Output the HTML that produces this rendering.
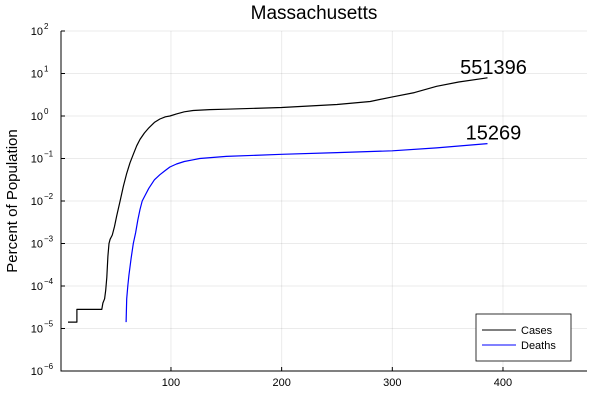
<!DOCTYPE html>
<html><head><meta charset="utf-8"><style>
body{margin:0;background:#fff;}
svg{font-family:"Liberation Sans","DejaVu Sans",sans-serif;}
</style></head><body>
<svg id="chart" width="600" height="400" viewBox="0 0 600 400" xmlns="http://www.w3.org/2000/svg">
<rect width="600" height="400" fill="#fff"/>
<text x="314" y="19" font-size="19" text-anchor="middle">Massachusetts</text>
<g id="grid"></g>
<g id="axes"></g>
<g id="series"></g>
<text transform="translate(17,201) rotate(-90)" font-size="15" text-anchor="middle">Percent of Population</text>
<g>
<rect x="476" y="314" width="95" height="47" fill="#fff" stroke="#000" stroke-width="0.8"/>
<line x1="482" y1="330" x2="516" y2="330" stroke="#000" stroke-width="1"/>
<text x="521" y="334" font-size="11">Cases</text>
<line x1="482" y1="345" x2="516" y2="345" stroke="#00f" stroke-width="1"/>
<text x="521" y="349" font-size="11">Deaths</text>
</g>
</svg>
<script>
const xTicks=[100,200,300,400];
const yTickExps=[-6,-5,-4,-3,-2,-1,0,1,2];
const caseDays=[7,15,15,37.5,38.5,40,41,42,43,44,45,47,49,51,54,57,60,63,66,69,72,76,80,85,90,95,99,105,112,120,135,150,200,250,280,300,320,340,360,386];
const caseLog=[-4.85,-4.85,-4.55,-4.55,-4.4,-4.3,-4.1,-3.8,-3.3,-3.0,-2.9,-2.8,-2.6,-2.35,-2.0,-1.65,-1.35,-1.1,-0.9,-0.7,-0.55,-0.4,-0.28,-0.15,-0.07,-0.02,0.0,0.05,0.1,0.13,0.15,0.16,0.2,0.27,0.34,0.45,0.55,0.7,0.8,0.9];
const deathDays=[59.5,60,61,62,64,66,68,70,72,74,77,80,85,90,95,99,105,112,120,126,150,200,250,300,340,386];
const deathLog=[-4.85,-4.3,-4.0,-3.75,-3.35,-3.0,-2.75,-2.45,-2.2,-2.0,-1.85,-1.7,-1.5,-1.38,-1.28,-1.2,-1.13,-1.07,-1.03,-1.0,-0.95,-0.9,-0.86,-0.82,-0.75,-0.65];
const endLabels=["551396","15269"];
const NS="http://www.w3.org/2000/svg";
const X0=61,X1=587,Y0=31,Y1=371;
function sx(d){return 60.3+d*1.1067;}
function sy(e){return Y0+(2-e)*(Y1-Y0)/8;}
function mk(t,a,p){const e=document.createElementNS(NS,t);for(const k in a)e.setAttribute(k,a[k]);p.appendChild(e);return e;}
const grid=document.getElementById('grid'),axes=document.getElementById('axes'),ser=document.getElementById('series');
xTicks.forEach(v=>{
 const g=mk('line',{x1:sx(v),x2:sx(v),y1:Y0,y2:Y1,stroke:'#000','stroke-opacity':0.08},grid);
 
 
 const t=mk('text',{x:sx(v),y:Y1+15,'font-size':11,'text-anchor':'middle'},axes);
 t.textContent=v;
 
 
 mk('line',{x1:sx(v),x2:sx(v),y1:Y1,y2:Y1-4,stroke:'#000'},axes);
});
yTickExps.forEach(v=>{
 const g=mk('line',{x1:X0,x2:X1,y1:sy(v),y2:sy(v),stroke:'#000','stroke-opacity':0.08},grid);
 
 
 mk('line',{x1:X0,x2:X0+4,y1:sy(v),y2:sy(v),stroke:'#000'},axes);
 const t=mk('text',{x:X0-18,y:sy(v)+4,'font-size':11,'text-anchor':'end'},axes);
 t.textContent='10';
 
 
 const s=mk('text',{x:X0-17,y:sy(v)-2,'font-size':8,'text-anchor':'start'},axes);
 s.textContent=(v<0?'\u2212'+(-v):''+v);
 
 
});
const ax=mk('path',{d:`M${X0},${Y0}V${Y1}H${X1}`,fill:'none',stroke:'#000','stroke-width':1},axes);


function line(days,vals,color,name){
 const d=days.map((x,i)=>(i?'L':'M')+sx(x).toFixed(1)+','+sy(vals[i]).toFixed(1)).join('');
 const p=mk('path',{d:d,fill:'none',stroke:color,'stroke-width':1.2,'stroke-linejoin':'round'},ser);
 
 
}
line(caseDays,caseLog,'#000','cases-line');
line(deathDays,deathLog,'#00f','deaths-line');
[[caseDays,caseLog],[deathDays,deathLog]].forEach((s,i)=>{
 const n=s[0].length-1;
 const t=mk('text',{x:sx(s[0][n])+6,y:sy(s[1][n])-4,'font-size':20,'text-anchor':'middle'},ser);
 t.textContent=endLabels[i];
 
 
});
</script>
</body></html>
